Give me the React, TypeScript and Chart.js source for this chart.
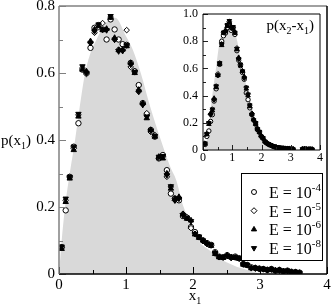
import React, { useEffect, useRef } from "react";
import { Chart, registerables } from "chart.js";

Chart.register(...registerables);

const FONT = "'Liberation Serif', 'Times New Roman', Times, serif";

// ---------- main panel: p(x1) ----------
const mainX = [
  0.04, 0.10, 0.16, 0.22, 0.29, 0.35, 0.41, 0.47, 0.53, 0.59,
  0.65, 0.71, 0.77, 0.83, 0.89, 0.95, 1.01, 1.07, 1.13, 1.19,
  1.25, 1.31, 1.37, 1.43, 1.49, 1.55, 1.61, 1.67, 1.73, 1.79,
  1.85, 1.91, 1.97, 2.03, 2.09, 2.15, 2.21, 2.27, 2.33, 2.39,
  2.45, 2.51, 2.57, 2.63, 2.69, 2.75, 2.81, 2.87, 2.93, 2.99,
  3.05, 3.11, 3.17, 3.23, 3.29, 3.35, 3.41, 3.47, 3.53, 3.59,
];
const mainE4 = [
  0.08, 0.19, 0.29, 0.38, 0.45, 0.61, 0.60, 0.675, 0.735, 0.743,
  0.73, 0.70, 0.76, 0.73, 0.70, 0.686, 0.684, 0.63, 0.605, 0.564,
  0.51, 0.475, 0.43, 0.41, 0.345, 0.355, 0.31, 0.24, 0.225, 0.22,
  0.173, 0.168, 0.14, 0.125, 0.11, 0.10, 0.092, 0.087, 0.065, 0.052,
  0.05, 0.056, 0.05, 0.052, 0.047, 0.03, 0.027, 0.02, 0.018, 0.016,
  0.015, 0.012, 0.015, 0.01, 0.012, 0.008, 0.01, 0.006, 0.006, 0.004,
];
const mainE5 = [
  0.08, 0.22, 0.29, 0.375, 0.475, 0.615, 0.597, 0.69, 0.72, 0.737,
  0.749, 0.73, 0.767, 0.70, 0.67, 0.668, 0.728, 0.618, 0.606, 0.544,
  0.507, 0.48, 0.424, 0.415, 0.346, 0.35, 0.29, 0.26, 0.22, 0.227,
  0.18, 0.17, 0.137, 0.12, 0.11, 0.098, 0.09, 0.085, 0.063, 0.05,
  0.05, 0.055, 0.048, 0.05, 0.046, 0.03, 0.026, 0.018, 0.017, 0.016,
  0.014, 0.013, 0.014, 0.011, 0.011, 0.009, 0.009, 0.007, 0.005, 0.004,
];
const mainE6 = [
  0.075, 0.215, 0.285, 0.37, 0.47, 0.61, 0.605, 0.695, 0.73, 0.74,
  0.728, 0.732, 0.765, 0.705, 0.668, 0.67, 0.68, 0.63, 0.60, 0.55,
  0.51, 0.465, 0.43, 0.41, 0.35, 0.345, 0.30, 0.255, 0.225, 0.23,
  0.178, 0.165, 0.16, 0.118, 0.108, 0.10, 0.092, 0.084, 0.06, 0.05,
  0.048, 0.056, 0.05, 0.048, 0.045, 0.028, 0.025, 0.017, 0.018, 0.015,
  0.014, 0.012, 0.013, 0.01, 0.012, 0.008, 0.009, 0.006, 0.005, 0.003,
];
const mainE8 = [
  0.082, 0.225, 0.29, 0.38, 0.478, 0.62, 0.60, 0.69, 0.725, 0.745,
  0.73, 0.728, 0.77, 0.70, 0.665, 0.666, 0.683, 0.625, 0.603, 0.545,
  0.505, 0.47, 0.428, 0.412, 0.35, 0.352, 0.295, 0.262, 0.22, 0.225,
  0.176, 0.168, 0.158, 0.12, 0.112, 0.10, 0.09, 0.087, 0.062, 0.051,
  0.05, 0.054, 0.049, 0.05, 0.047, 0.029, 0.027, 0.018, 0.017, 0.015,
  0.015, 0.012, 0.014, 0.011, 0.011, 0.008, 0.01, 0.006, 0.006, 0.004,
];
const theoryX = [0, 0.02, 0.04, 0.09, 0.16, 0.24, 0.31, 0.39, 0.47, 0.56, 0.7, 0.84, 1.0, 1.1, 1.22, 1.36, 1.52, 1.66, 1.75, 1.86, 1.95, 2.08, 2.25, 2.37, 2.5, 2.65, 2.85, 2.95, 3.0];
const theoryY = [0, 0.05, 0.1, 0.2, 0.3, 0.4, 0.5, 0.6, 0.66, 0.7, 0.75, 0.765, 0.71, 0.67, 0.6, 0.5, 0.4, 0.32, 0.28, 0.2, 0.16, 0.1, 0.07, 0.05, 0.035, 0.022, 0.01, 0.004, 0];

// ---------- inset: p(x2-x1) ----------
const insetX = [
  0.07, 0.13, 0.2, 0.26, 0.32, 0.38, 0.45, 0.51, 0.57, 0.64,
  0.7, 0.77, 0.83, 0.9, 0.96, 1.03, 1.09, 1.16, 1.22, 1.28,
  1.35, 1.41, 1.48, 1.54, 1.6, 1.67, 1.73, 1.8, 1.86, 1.93,
  1.99, 2.05, 2.12, 2.18, 2.25, 2.31, 2.38, 2.44, 2.5, 2.57,
  2.63, 2.7, 2.76, 2.82, 2.89, 2.95, 3.02, 3.08, 3.4, 3.47,
  3.53, 3.6, 3.66, 3.73,
];
const insetE4 = [
  0.04, 0.1, 0.14, 0.21, 0.26, 0.36, 0.45, 0.55, 0.63, 0.8,
  0.84, 0.86, 0.9, 0.93, 0.88, 0.9, 0.85, 0.73, 0.66, 0.62,
  0.57, 0.52, 0.42, 0.37, 0.31, 0.26, 0.22, 0.19, 0.15, 0.13,
  0.1, 0.085, 0.06, 0.05, 0.04, 0.035, 0.028, 0.024, 0.02, 0.017,
  0.015, 0.013, 0.012, 0.01, 0.01, 0.008, 0.008, 0.006, 0.006, 0.008,
  0.006, 0.005, 0.006, 0.005,
];
const insetE5 = [
  0.05, 0.12, 0.2, 0.26, 0.3, 0.37, 0.47, 0.56, 0.64, 0.78,
  0.865, 0.875, 0.92, 0.945, 0.9, 0.9, 0.865, 0.75, 0.67, 0.63,
  0.58, 0.53, 0.46, 0.41, 0.33, 0.27, 0.22, 0.2, 0.16, 0.135,
  0.1, 0.09, 0.065, 0.05, 0.04, 0.037, 0.03, 0.025, 0.02, 0.018,
  0.014, 0.013, 0.011, 0.01, 0.009, 0.009, 0.007, 0.006, 0.007, 0.007,
  0.006, 0.005, 0.005, 0.005,
];
const insetE6 = [
  0.045, 0.115, 0.19, 0.27, 0.29, 0.38, 0.46, 0.55, 0.63, 0.77,
  0.86, 0.88, 0.91, 0.94, 0.91, 0.89, 0.86, 0.74, 0.68, 0.62,
  0.58, 0.54, 0.45, 0.4, 0.32, 0.265, 0.225, 0.19, 0.155, 0.13,
  0.105, 0.088, 0.062, 0.052, 0.042, 0.036, 0.029, 0.024, 0.021, 0.017,
  0.015, 0.012, 0.012, 0.01, 0.01, 0.008, 0.007, 0.006, 0.006, 0.007,
  0.006, 0.005, 0.006, 0.005,
];
const insetE8 = [
  0.05, 0.12, 0.2, 0.26, 0.3, 0.37, 0.47, 0.55, 0.64, 0.78,
  0.865, 0.87, 0.92, 0.95, 0.9, 0.905, 0.865, 0.745, 0.67, 0.63,
  0.58, 0.53, 0.46, 0.41, 0.33, 0.26, 0.22, 0.2, 0.155, 0.135,
  0.1, 0.09, 0.063, 0.05, 0.041, 0.037, 0.03, 0.025, 0.02, 0.018,
  0.014, 0.013, 0.011, 0.01, 0.009, 0.009, 0.007, 0.006, 0.007, 0.007,
  0.006, 0.005, 0.005, 0.005,
];
const insetTheoryX = [0, 0.07, 0.13, 0.2, 0.3, 0.45, 0.58, 0.7, 0.88, 1.0, 1.16, 1.33, 1.5, 1.62, 1.8, 2.0, 2.15, 2.3, 2.5, 2.7];
const insetTheoryY = [0, 0.02, 0.074, 0.18, 0.37, 0.61, 0.81, 0.89, 0.93, 0.91, 0.81, 0.61, 0.46, 0.37, 0.2, 0.074, 0.04, 0.02, 0.005, 0];

const legendExponents = ["-4", "-5", "-6", "-8"];
const legendKinds = ["circle", "diamond", "up", "down"];

type Part = { t: string; s: number; dy: number };

function drawRich(ctx: CanvasRenderingContext2D, parts: Part[], x: number, y: number, align: "left" | "center" | "right") {
  let w = 0;
  for (const p of parts) {
    ctx.font = `${p.s}px ${FONT}`;
    w += ctx.measureText(p.t).width;
  }
  let cx = align === "right" ? x - w : align === "center" ? x - w / 2 : x;
  ctx.textAlign = "left";
  ctx.textBaseline = "alphabetic";
  ctx.fillStyle = "#000";
  for (const p of parts) {
    ctx.font = `${p.s}px ${FONT}`;
    ctx.fillText(p.t, cx, y + p.dy);
    cx += ctx.measureText(p.t).width;
  }
}

function drawMarker(ctx: CanvasRenderingContext2D, kind: string, x: number, y: number, r: number) {
  ctx.save();
  ctx.lineWidth = 1;
  ctx.strokeStyle = "#000";
  ctx.beginPath();
  if (kind === "circle") {
    ctx.arc(x, y, r, 0, Math.PI * 2);
    ctx.fillStyle = "#fff";
  } else if (kind === "diamond") {
    ctx.moveTo(x, y - r);
    ctx.lineTo(x + r, y);
    ctx.lineTo(x, y + r);
    ctx.lineTo(x - r, y);
    ctx.closePath();
    ctx.fillStyle = "#fff";
  } else if (kind === "up") {
    ctx.moveTo(x, y - r);
    ctx.lineTo(x + r * 0.87, y + r * 0.5);
    ctx.lineTo(x - r * 0.87, y + r * 0.5);
    ctx.closePath();
    ctx.fillStyle = "#000";
  } else {
    ctx.moveTo(x, y + r);
    ctx.lineTo(x + r * 0.87, y - r * 0.5);
    ctx.lineTo(x - r * 0.87, y - r * 0.5);
    ctx.closePath();
    ctx.fillStyle = "#000";
  }
  ctx.fill();
  ctx.stroke();
  ctx.restore();
}

function pts(xs: number[], ys: number[]) {
  return xs.map((x, i) => ({ x, y: ys[i] }));
}

function series(xs: number[], ys: number[], style: string, r: number, rot: number, fill: string, order: number) {
  return {
    type: "scatter" as const,
    data: pts(xs, ys),
    pointStyle: style,
    pointRadius: r,
    pointRotation: rot,
    pointBackgroundColor: fill,
    pointBorderColor: "#000",
    pointBorderWidth: 1,
    showLine: false,
    order,
  };
}

function drawFrame(
  ctx: CanvasRenderingContext2D,
  a: { left: number; right: number; top: number; bottom: number },
  colors: { top: string; right: string; bottom: string; left: string },
  lw: number
) {
  ctx.save();
  ctx.lineWidth = lw;
  const L = Math.round(a.left), R = Math.round(a.right), T = Math.round(a.top), B = Math.round(a.bottom);
  const seg = (c: string, x1: number, y1: number, x2: number, y2: number) => {
    ctx.strokeStyle = c;
    ctx.beginPath();
    ctx.moveTo(x1, y1);
    ctx.lineTo(x2, y2);
    ctx.stroke();
  };
  seg(colors.top, L, T, R, T);
  seg(colors.right, R, T, R, B);
  seg(colors.bottom, L, B, R, B);
  seg(colors.left, L, T, L, B);
  ctx.restore();
}

const mainDecor = {
  id: "mainDecor",
  afterDatasetsDraw(chart: any) {
    const { ctx, chartArea: a, scales } = chart;
    const xs = scales.x, ys = scales.y;
    ctx.save();
    ctx.lineWidth = 1;
    ctx.strokeStyle = "#000";
    ctx.beginPath();
    for (let i = 0; i <= 8; i++) {
      const v = i * 0.5;
      const px = Math.round(xs.getPixelForValue(v)) + 0.5;
      const len = i % 2 === 0 ? 7 : 4;
      ctx.moveTo(px, a.bottom);
      ctx.lineTo(px, a.bottom - len);
    }
    ctx.stroke();
    ctx.strokeStyle = "#808080";
    ctx.beginPath();
    for (let i = 0; i <= 8; i++) {
      const v = i * 0.1;
      const py = Math.round(ys.getPixelForValue(v)) + 0.5;
      const len = i % 2 === 0 ? 7 : 4;
      ctx.moveTo(a.left, py);
      ctx.lineTo(a.left + len, py);
    }
    ctx.stroke();
    ctx.restore();
    drawFrame(ctx, a, { top: "#808080", right: "#000", bottom: "#000", left: "#808080" }, 1.5);

    // axis titles
    const midY = (a.top + a.bottom) / 2;
    drawRich(ctx, [{ t: "p(x", s: 15, dy: 0 }, { t: "1", s: 10, dy: 4 }, { t: ")", s: 15, dy: 0 }], 1, midY + 5, "left");
    drawRich(ctx, [{ t: "x", s: 15, dy: 0 }, { t: "1", s: 10, dy: 4 }], (a.left + a.right) / 2 + 2, a.bottom + 26, "center");

    // legend
    const bw = 81, bh = 87;
    const bx = Math.round(a.right) - 5 - bw, by = Math.round(a.bottom) - 14 - bh;
    ctx.save();
    ctx.fillStyle = "#fff";
    ctx.fillRect(bx, by, bw, bh);
    ctx.strokeStyle = "#000";
    ctx.lineWidth = 1;
    ctx.strokeRect(bx + 0.5, by + 0.5, bw, bh);
    ctx.restore();
    for (let i = 0; i < 4; i++) {
      const cy = by + 19 + i * 18.7;
      drawMarker(ctx, legendKinds[i], bx + 13, cy, legendKinds[i] === "circle" ? 2.5 : 3);
      drawRich(ctx, [{ t: "E = 10", s: 16, dy: 0 }, { t: legendExponents[i], s: 11, dy: -7 }], bx + 28, cy + 6, "left");
    }
  },
};

const insetDecor = {
  id: "insetDecor",
  afterDatasetsDraw(chart: any) {
    const { ctx, chartArea: a, scales } = chart;
    const xs = scales.x, ys = scales.y;
    ctx.save();
    ctx.lineWidth = 1;
    ctx.strokeStyle = "#222";
    ctx.beginPath();
    for (let i = 0; i <= 8; i++) {
      const v = i * 0.5;
      const px = Math.round(xs.getPixelForValue(v)) + 0.5;
      const len = i % 2 === 0 ? 5 : 3;
      ctx.moveTo(px, a.bottom);
      ctx.lineTo(px, a.bottom - len);
    }
    for (let i = 0; i <= 10; i++) {
      const v = i * 0.1;
      const py = Math.round(ys.getPixelForValue(v)) + 0.5;
      const len = i % 2 === 0 ? 5 : 3;
      ctx.moveTo(a.left, py);
      ctx.lineTo(a.left + len, py);
    }
    ctx.stroke();
    ctx.restore();
    drawFrame(ctx, a, { top: "#000", right: "#000", bottom: "#000", left: "#000" }, 1);
    drawRich(
      ctx,
      [
        { t: "p(x", s: 15, dy: 0 },
        { t: "2", s: 10, dy: 4 },
        { t: "-x", s: 15, dy: 0 },
        { t: "1", s: 10, dy: 4 },
        { t: ")", s: 15, dy: 0 },
      ],
      a.right - 6,
      a.top + 16,
      "right"
    );
  },
};

function mainConfig(): any {
  return {
    type: "scatter",
    data: {
      datasets: [
        series(mainX, mainE4, "circle", 2.7, 0, "#fff", 4),
        series(mainX, mainE5, "rectRot", 2.8, 0, "#fff", 3),
        series(mainX, mainE6, "triangle", 3.1, 0, "#000", 2),
        series(mainX, mainE8, "triangle", 3.1, 180, "#000", 1),
        {
          type: "line",
          data: pts(theoryX, theoryY),
          fill: "origin",
          backgroundColor: "#d9d9d9",
          borderWidth: 0,
          borderColor: "rgba(0,0,0,0)",
          pointRadius: 0,
          cubicInterpolationMode: "monotone",
          order: 10,
        },
      ],
    },
    options: {
      animation: false,
      responsive: false,
      devicePixelRatio: 1,
      layout: { padding: { left: 0, right: 5, top: 6, bottom: 0 } },
      plugins: { legend: { display: false }, tooltip: { enabled: false } },
      scales: {
        x: {
          type: "linear",
          min: 0,
          max: 4,
          grid: { display: false, drawTicks: false },
          border: { display: false },
          ticks: { stepSize: 1, color: "#000", padding: 2, maxRotation: 0, font: { family: FONT, size: 15 } },
          afterFit: (s: any) => {
            s.height = 34;
            s.paddingLeft = 0;
            s.paddingRight = 0;
          },
        },
        y: {
          type: "linear",
          min: 0,
          max: 0.8,
          grid: { display: false, drawTicks: false },
          border: { display: false },
          ticks: { stepSize: 0.2, color: "#000", padding: 4, font: { family: FONT, size: 15 } },
          afterFit: (s: any) => {
            s.width = 59;
            s.paddingTop = 0;
            s.paddingBottom = 0;
          },
        },
      },
    },
    plugins: [mainDecor],
  };
}

function insetConfig(): any {
  return {
    type: "scatter",
    data: {
      datasets: [
        series(insetX, insetE4, "circle", 2.2, 0, "#fff", 4),
        series(insetX, insetE5, "rectRot", 2.4, 0, "#fff", 3),
        series(insetX, insetE6, "triangle", 2.6, 0, "#000", 2),
        series(insetX, insetE8, "triangle", 2.6, 180, "#000", 1),
        {
          type: "line",
          data: pts(insetTheoryX, insetTheoryY),
          fill: "origin",
          backgroundColor: "#d9d9d9",
          borderWidth: 0,
          borderColor: "rgba(0,0,0,0)",
          pointRadius: 0,
          cubicInterpolationMode: "monotone",
          order: 10,
        },
      ],
    },
    options: {
      animation: false,
      responsive: false,
      devicePixelRatio: 1,
      layout: { padding: { left: 0, right: 12, top: 14, bottom: 0 } },
      plugins: { legend: { display: false }, tooltip: { enabled: false } },
      scales: {
        x: {
          type: "linear",
          min: 0,
          max: 4,
          grid: { display: false, drawTicks: false },
          border: { display: false },
          ticks: { stepSize: 1, color: "#000", padding: 1, maxRotation: 0, font: { family: FONT, size: 12 } },
          afterFit: (s: any) => {
            s.height = 20;
            s.paddingLeft = 0;
            s.paddingRight = 0;
          },
        },
        y: {
          type: "linear",
          min: 0,
          max: 1,
          grid: { display: false, drawTicks: false },
          border: { display: false },
          ticks: { stepSize: 0.2, color: "#000", padding: 5, font: { family: FONT, size: 12 } },
          afterFit: (s: any) => {
            s.width = 43;
            s.paddingTop = 0;
            s.paddingBottom = 0;
          },
        },
      },
    },
    plugins: [insetDecor],
  };
}

export default function App() {
  const mainRef = useRef<HTMLCanvasElement>(null);
  const insetRef = useRef<HTMLCanvasElement>(null);
  useEffect(() => {
    document.body.style.margin = "0";
    const m = new Chart(mainRef.current as HTMLCanvasElement, mainConfig());
    const i = new Chart(insetRef.current as HTMLCanvasElement, insetConfig());
    return () => {
      m.destroy();
      i.destroy();
    };
  }, []);
  return (
    <div style={{ position: "relative", width: 332, height: 308, background: "#fff" }}>
      <canvas ref={mainRef} width={332} height={308} style={{ position: "absolute", left: 0, top: 0, width: 332, height: 308 }} />
      <canvas ref={insetRef} width={172} height={170} style={{ position: "absolute", left: 160, top: 0, width: 172, height: 170 }} />
    </div>
  );
}
